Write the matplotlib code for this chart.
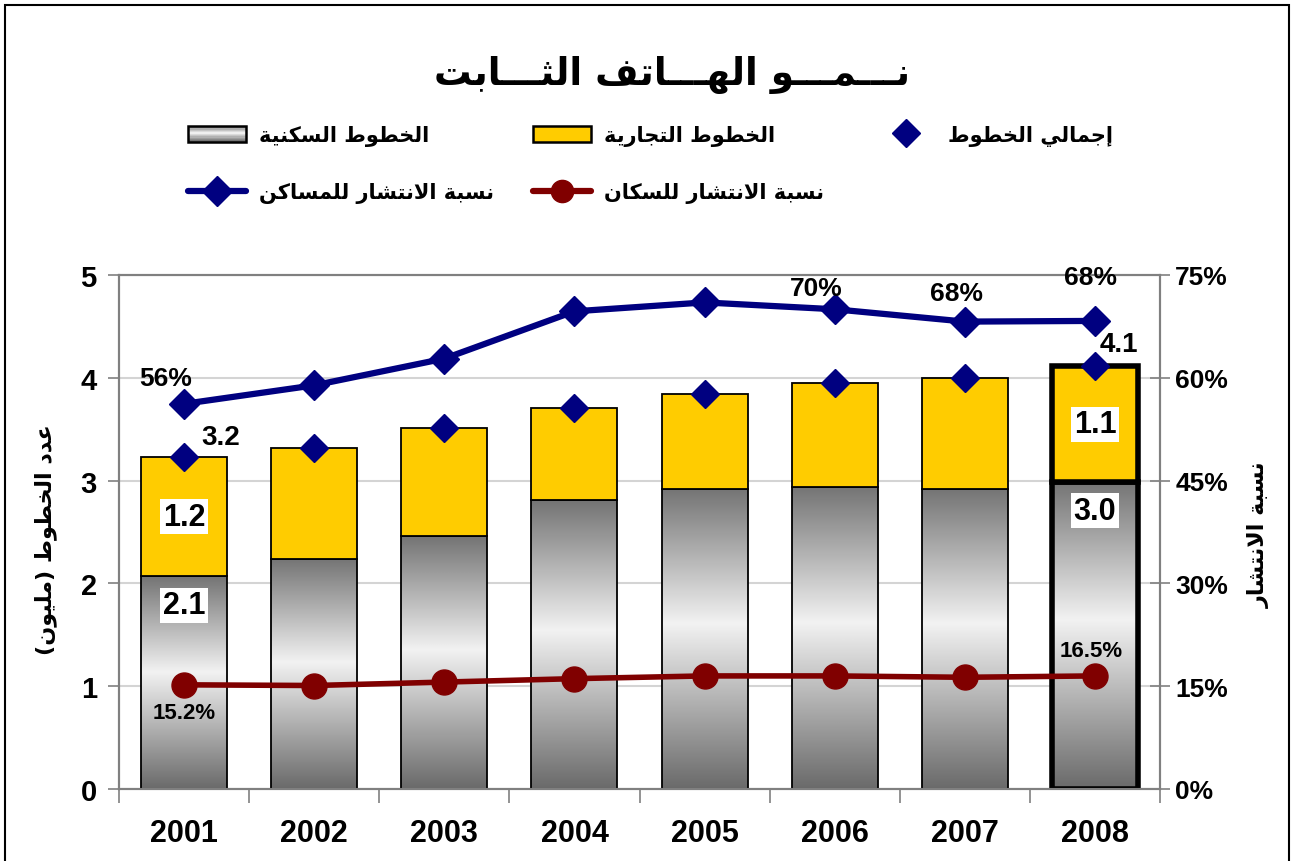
import numpy as np
import matplotlib
matplotlib.use('Agg')
import matplotlib.pyplot as plt
from matplotlib.colors import LinearSegmentedColormap
from matplotlib.lines import Line2D
from matplotlib.patches import Patch, Rectangle
from matplotlib.legend_handler import HandlerBase

# ---------------- data ----------------
years = ['2001', '2002', '2003', '2004', '2005', '2006', '2007', '2008']
residential = [2.07, 2.24, 2.46, 2.81, 2.92, 2.94, 2.92, 2.99]
business = [1.16, 1.08, 1.05, 0.90, 0.92, 1.01, 1.08, 1.12]
total_lines = [3.23, 3.32, 3.51, 3.71, 3.84, 3.95, 4.00, 4.11]
household_pen = [56.2, 58.9, 62.8, 69.7, 71.0, 70.0, 68.2, 68.3]
population_pen = [15.2, 15.1, 15.6, 16.1, 16.5, 16.5, 16.3, 16.5]
left_ticks = [0, 1, 2, 3, 4, 5]
right_ticks = [0, 15, 30, 45, 60, 75]

title_txt = 'نـــمـــو الهـــاتف الثـــابت'
lbl_res = 'الخطوط السكنية'
lbl_bus = 'الخطوط التجارية'
lbl_tot = 'إجمالي الخطوط'
lbl_hh = 'نسبة الانتشار للمساكن'
lbl_pop = 'نسبة الانتشار للسكان'
ylabel_left = 'عدد الخطوط (مليون)'
ylabel_right = 'نسبة الانتشار'

# ---------------- simple Arabic shaping ----------------
FORMS = {
    'ا': ('\uFE8D', '\uFE8E', None, None),
    'إ': ('\uFE87', '\uFE88', None, None),
    'ب': ('\uFE8F', '\uFE90', '\uFE91', '\uFE92'),
    'ة': ('\uFE93', '\uFE94', None, None),
    'ت': ('\uFE95', '\uFE96', '\uFE97', '\uFE98'),
    'ث': ('\uFE99', '\uFE9A', '\uFE9B', '\uFE9C'),
    'ج': ('\uFE9D', '\uFE9E', '\uFE9F', '\uFEA0'),
    'خ': ('\uFEA5', '\uFEA6', '\uFEA7', '\uFEA8'),
    'د': ('\uFEA9', '\uFEAA', None, None),
    'ر': ('\uFEAD', '\uFEAE', None, None),
    'س': ('\uFEB1', '\uFEB2', '\uFEB3', '\uFEB4'),
    'ش': ('\uFEB5', '\uFEB6', '\uFEB7', '\uFEB8'),
    'ط': ('\uFEC1', '\uFEC2', '\uFEC3', '\uFEC4'),
    'ع': ('\uFEC9', '\uFECA', '\uFECB', '\uFECC'),
    'ف': ('\uFED1', '\uFED2', '\uFED3', '\uFED4'),
    'ك': ('\uFED9', '\uFEDA', '\uFEDB', '\uFEDC'),
    'ل': ('\uFEDD', '\uFEDE', '\uFEDF', '\uFEE0'),
    'م': ('\uFEE1', '\uFEE2', '\uFEE3', '\uFEE4'),
    'ن': ('\uFEE5', '\uFEE6', '\uFEE7', '\uFEE8'),
    'ه': ('\uFEE9', '\uFEEA', '\uFEEB', '\uFEEC'),
    'و': ('\uFEED', '\uFEEE', None, None),
    'ي': ('\uFEF1', '\uFEF2', '\uFEF3', '\uFEF4'),
}
TATWEEL = '\u0640'
LAM_ALEF = {'ا': ('\uFEFB', '\uFEFC'), 'إ': ('\uFEF9', '\uFEFA')}


def shape(text):
    chars = list(text)
    units = []
    i = 0
    while i < len(chars):
        c = chars[i]
        if c == 'ل' and i + 1 < len(chars) and chars[i + 1] in LAM_ALEF:
            units.append(('LA', chars[i + 1]))
            i += 2
        else:
            units.append(('C', c))
            i += 1

    def jl(u):
        if u is None or u[0] == 'LA':
            return False
        c = u[1]
        return c == TATWEEL or (c in FORMS and FORMS[c][2] is not None)

    def jr(u):
        if u is None:
            return False
        if u[0] == 'LA':
            return True
        c = u[1]
        return c == TATWEEL or c in FORMS

    out = []
    for k, (kind, c) in enumerate(units):
        prev = units[k - 1] if k > 0 else None
        nxt = units[k + 1] if k + 1 < len(units) else None
        p = jl(prev)
        if kind == 'LA':
            out.append(LAM_ALEF[c][1 if p else 0])
            continue
        if c not in FORMS:
            out.append(c)
            continue
        iso, fin, ini, med = FORMS[c]
        n = jr(nxt) and ini is not None
        if p and n:
            g = med
        elif p:
            g = fin
        elif n:
            g = ini
        else:
            g = iso
        out.append(g)
    vis = ''.join(reversed(out))
    return vis.translate(str.maketrans('()', ')('))


# ---------------- style ----------------
plt.rcParams['font.family'] = ['Liberation Sans', 'DejaVu Sans']
plt.rcParams['font.weight'] = 'bold'
AR = ['DejaVu Sans']

W, H = 1293, 862
fig = plt.figure(figsize=(W / 100, H / 100), dpi=100)
fig.patch.set_facecolor('white')

L, R, T, B = 119, 1160, 276, 790
ax = fig.add_axes([L / W, 1 - B / H, (R - L) / W, (B - T) / H])
ax2 = ax.twinx()

x = np.arange(len(years))
bw = 0.66
yellow = '#FFCC00'
navy = '#000080'
maroon = '#800000'

grad_cmap = LinearSegmentedColormap.from_list(
    'g', [(0, '#6a6a6a'), (0.55, '#f2f2f2'), (1.0, '#747474')])
grad = np.linspace(0, 1, 256).reshape(-1, 1)

lws = [1.3] * (len(years) - 1) + [4.0]

res_bars = ax.bar(x, residential, bw, color='none', edgecolor='black',
                  linewidth=lws, zorder=3)
bus_bars = ax.bar(x, business, bw, bottom=residential, color=yellow,
                  edgecolor='black', linewidth=lws, zorder=3)

for rect in res_bars:
    x0 = rect.get_x()
    im = ax.imshow(grad, extent=[x0, x0 + rect.get_width(), 0, rect.get_height()],
                   origin='lower', aspect='auto', cmap=grad_cmap, zorder=2.5,
                   interpolation='bilinear')
    im.set_clip_path(rect)

ax.set_xlim(-0.5, len(years) - 0.5)
ax.set_ylim(0, 5)
ax.set_yticks(left_ticks)
ax.set_yticklabels([str(v) for v in left_ticks])
ax.set_xticks(x)
ax.set_xticklabels(years)
ax.set_xticks(np.arange(-0.5, len(years), 1.0), minor=True)
ax.tick_params(axis='x', which='major', length=0, pad=21, labelsize=22)
ax.tick_params(axis='x', which='minor', length=10, width=1.2, color='#808080',
               direction='out')
ax.tick_params(axis='y', which='major', length=8, width=1.2, color='#808080',
               pad=8, labelsize=21)
ax.grid(axis='y', color='#d4d4d4', linewidth=1.5, zorder=0)
ax.set_axisbelow(True)

# total lines diamonds
ax.plot(x, total_lines, linestyle='none', marker='D', markersize=14,
        color=navy, zorder=5)

# right axis
ax2.set_ylim(0, 75)
ax2.set_yticks(right_ticks)
ax2.set_yticklabels([f'{v}%' for v in right_ticks])
ax2.tick_params(axis='y', length=14, width=1.2, color='#808080',
                direction='inout', pad=4, labelsize=19)
ax2.plot(x, household_pen, color=navy, linewidth=4.5, marker='D',
         markersize=15, zorder=6, solid_capstyle='round')
ax2.plot(x, population_pen, color=maroon, linewidth=4.0, marker='o',
         markersize=18, zorder=6)

for a in (ax, ax2):
    for s in a.spines.values():
        s.set_color('#808080')
        s.set_linewidth(1.5)
ax.spines['left'].set_color('#666666')

# ---------------- labels ----------------
def ann(a, txt, xy, off, size, **kw):
    a.annotate(txt, xy=xy, xytext=off, textcoords='offset pixels',
               ha='center', va='center', fontsize=size, fontweight='bold',
               zorder=8, annotation_clip=False, **kw)

box = dict(boxstyle='square,pad=0.08', facecolor='white', edgecolor='none')
for i in (0, len(years) - 1):
    ann(ax, f'{business[i]:.1f}', (x[i], residential[i] + business[i] / 2), (0, 0), 22, bbox=box)
    ann(ax, f'{residential[i]:.1f}', (x[i], residential[i]), (0, -29), 22, bbox=box)

ann(ax, f'{total_lines[0]:.1f}', (x[0], total_lines[0]), (37, 20), 20)
ann(ax, f'{total_lines[-1]:.1f}', (x[-1], total_lines[-1]), (24, 22), 20)

hh_offsets = {0: (-18, 26), 5: (-18, 21), 6: (-8, 29), 7: (-4, 44)}
for i, off in hh_offsets.items():
    ann(ax2, f'{household_pen[i]:.0f}%', (x[i], household_pen[i]), off, 19)

ann(ax2, f'{population_pen[0]:.1f}%', (x[0], population_pen[0]), (0, -28), 16)
ann(ax2, f'{population_pen[-1]:.1f}%', (x[-1], population_pen[-1]), (-4, 25), 16)

# title & axis titles
fig.text(672 / W, 1 - 75 / H, shape(title_txt), ha='center', va='center',
         fontsize=27, fontweight='bold', family=AR)
fig.text(46 / W, 1 - 540 / H, shape(ylabel_left), ha='center', va='center',
         rotation=90, fontsize=16, fontweight='bold', family=AR)
fig.text(1259 / W, 1 - 535 / H, shape(ylabel_right), ha='center', va='center',
         rotation=90, fontsize=16, fontweight='bold', family=AR)


# ---------------- legend ----------------
class GradientHandler(HandlerBase):
    def create_artists(self, legend, orig_handle, xdescent, ydescent,
                       width, height, fontsize, trans):
        arts = []
        n = 12
        for k in range(n):
            t = (k + 0.5) / n
            c = grad_cmap(t)
            arts.append(Rectangle((-xdescent, -ydescent + height * k / n), width,
                                  height / n, facecolor=c, edgecolor='none',
                                  transform=trans))
        arts.append(Rectangle((-xdescent, -ydescent), width, height,
                              facecolor='none', edgecolor='black', linewidth=1.8,
                              transform=trans))
        return arts


class GradPatch(Patch):
    pass


h_res = GradPatch()
h_bus = Patch(facecolor=yellow, edgecolor='black', linewidth=1.8)
h_tot = Line2D([], [], linestyle='none', marker='D', markersize=14, color=navy)
h_hh = Line2D([], [], color=navy, linewidth=4.5, marker='D', markersize=15,
              solid_capstyle='round')
h_pop = Line2D([], [], color=maroon, linewidth=4.5, marker='o', markersize=16,
               solid_capstyle='round')

legprops = dict(family=AR, weight='bold', size=15)
cols = [
    ([h_res, h_hh], [shape(lbl_res), shape(lbl_hh)], 188),
    ([h_bus, h_pop], [shape(lbl_bus), shape(lbl_pop)], 533),
    ([h_tot], [shape(lbl_tot)], 877),
]
for hs, ls, px in cols:
    fig.legend(hs, ls, loc='upper left', bbox_to_anchor=(px / W, 1 - 126 / H),
               frameon=False, prop=legprops, handlelength=2.8, handleheight=0.8,
               labelspacing=1.75, handletextpad=0.6, borderpad=0, borderaxespad=0,
               handler_map={GradPatch: GradientHandler()})

# outer border
fig.add_artist(Rectangle((5 / W, -0.05), (1289 - 5) / W, 1.05 - 6 / H,
                         transform=fig.transFigure, facecolor='none',
                         edgecolor='black', linewidth=1.5, clip_on=False))

fig.savefig('out.png', dpi=100)
